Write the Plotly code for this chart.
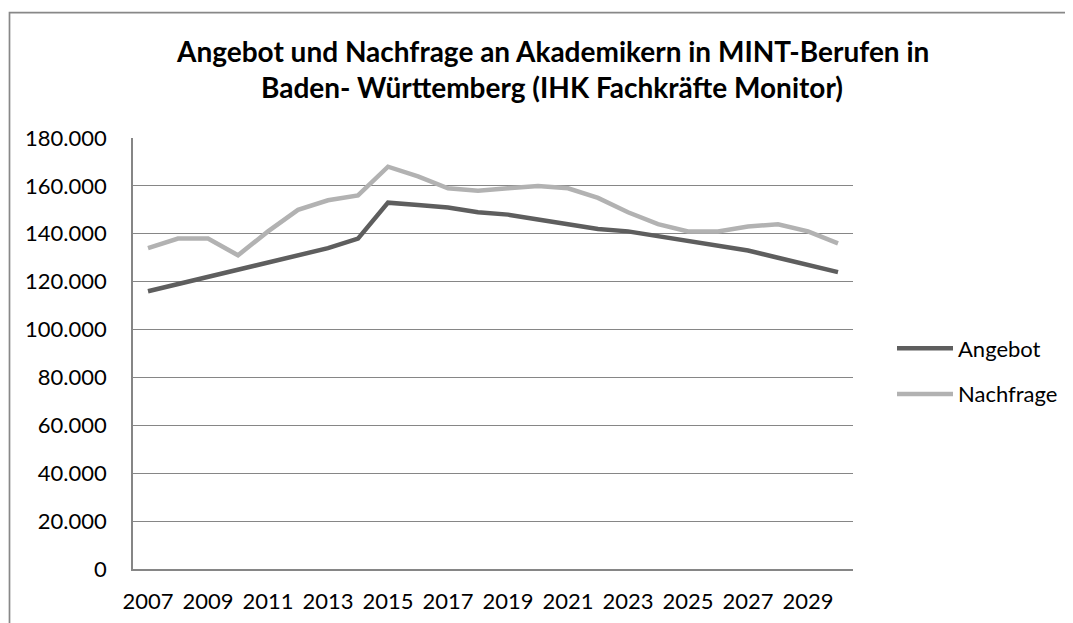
import plotly.graph_objects as go

years = [str(y) for y in range(2007, 2031)]
angebot = [116000, 119000, 122000, 125000, 128000, 131000, 134000, 138000,
           153000, 152000, 151000, 149000, 148000, 146000, 144000, 142000,
           141000, 139000, 137000, 135000, 133000, 130000, 127000, 124000]
nachfrage = [134000, 138000, 138000, 131000, 141000, 150000, 154000, 156000,
             168000, 164000, 159000, 158000, 159000, 160000, 159000, 155000,
             149000, 144000, 141000, 141000, 143000, 144000, 141000, 136000]
tick_labels = [str(y) for y in range(2007, 2031, 2)]
y_ticks = list(range(0, 180001, 20000))
title_lines = ["Angebot und Nachfrage an Akademikern in MINT-Berufen in",
               "Baden- Württemberg (IHK Fachkräfte Monitor)"]

FONT = "Lato"
OFF = 8  # page body margin
W, H = 1073 - OFF, 623 - OFF
L, R, T, B = 133 - OFF, 220, 138 - OFF, 54
pw, ph = W - L - R, H - T - B


def px(x):
    return (x - OFF - L) / pw


def py(y):
    return (H - B - (y - OFF)) / ph


fig = go.Figure()
fig.add_trace(go.Scatter(x=years, y=angebot, mode="lines", name="Angebot",
                         legendgroup="a",
                         line=dict(color="#5e5e5e", width=4.5)))
fig.add_trace(go.Scatter(x=years, y=nachfrage, mode="lines", name="Nachfrage",
                         legendgroup="n",
                         line=dict(color="#b2b2b2", width=4.5)))

fig.update_layout(
    width=W, height=H,
    margin=dict(l=L, r=R, t=T, b=B, pad=0, autoexpand=False),
    paper_bgcolor="white", plot_bgcolor="white",
    separators=",.",
    font=dict(family=FONT, size=22, color="#000000"),
    showlegend=True,
    legend=dict(x=px(892), xanchor="left", y=py(371.5), yanchor="middle",
                font=dict(family=FONT, size=22, color="#000000"),
                itemwidth=56, tracegroupgap=14, bgcolor="rgba(0,0,0,0)"),
    hovermode=False,
)

fig.update_xaxes(type="category", range=[-0.5, len(years) - 0.5],
                 tickmode="array", tickvals=tick_labels, ticktext=tick_labels,
                 showgrid=False, showline=True, linecolor="#868686", linewidth=1.5,
                 ticks="", ticklabelstandoff=12, automargin=False,
                 tickfont=dict(family=FONT, size=22, color="#000000"),
                 zeroline=False, fixedrange=True)
fig.update_yaxes(range=[0, 180000], tickmode="array", tickvals=y_ticks,
                 tickformat=",d",
                 showgrid=True, gridcolor="#868686", gridwidth=1.3,
                 showline=True, linecolor="#868686", linewidth=1.5,
                 ticks="", ticklabelstandoff=20, automargin=False,
                 tickfont=dict(family=FONT, size=22, color="#000000"),
                 zeroline=False, fixedrange=True)

# chart area border
fig.add_shape(type="rect", xref="paper", yref="paper",
              x0=px(9.5), x1=px(1100), y0=py(640), y1=py(12.7),
              line=dict(color="#888888", width=1.7), fillcolor="rgba(0,0,0,0)",
              layer="below")

for txt, yc in zip(title_lines, [51.5, 86.5]):
    fig.add_annotation(text="<b>" + txt + "</b>", xref="paper", yref="paper",
                       x=px(552), y=py(yc), xanchor="center", yanchor="middle",
                       showarrow=False,
                       font=dict(family=FONT, size=28, color="#000000"))

fig.write_html("out.html")
